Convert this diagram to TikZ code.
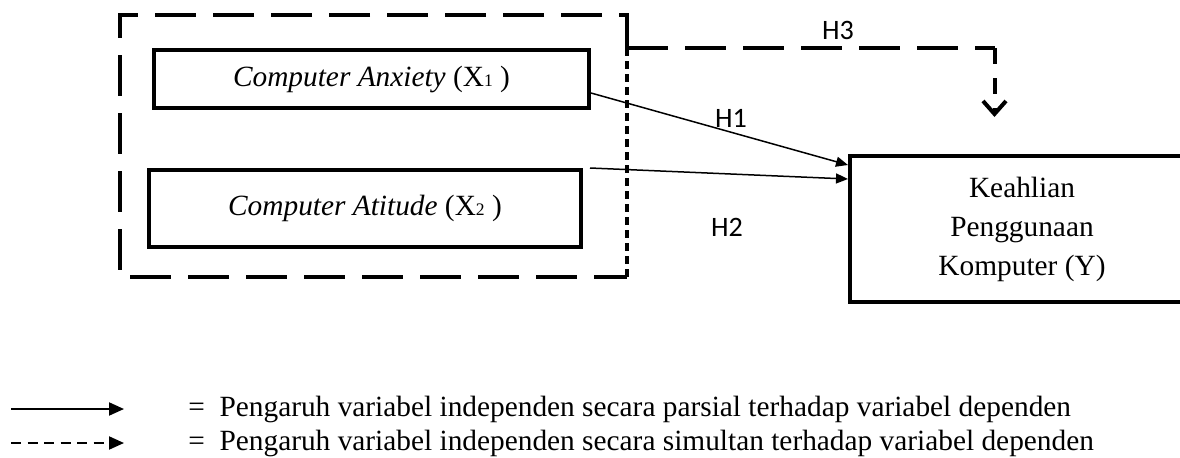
\documentclass[tikz,border=0pt]{standalone}
\usepackage{fontspec}
\setmainfont{Liberation Serif}
\newfontfamily\hfont{Carlito}
\newcommand{\txtsize}{\fontsize{16.7}{22.2}\selectfont}
\newcommand{\idx}[1]{{\fontsize{10}{10}\selectfont #1}}
\usetikzlibrary{arrows.meta}
\usetikzlibrary{positioning}
\tikzset{
	varbox/.style={draw, line width=0.08cm, align=center},
	grpdash/.style={line width=0.08cm, dash pattern=on 0.82cm off 0.34cm},
	grpdot/.style={line width=0.07cm, dash pattern=on 0.16cm off 0.1cm},
	partial/.style={line width=0.03cm, -{Triangle[length=0.24cm,width=0.2cm]}},
	hlabel/.style={font=\hfont\fontsize{16}{19}\selectfont},
	legtext/.style={anchor=west, inner sep=0pt}
}

\begin{document}
\begin{tikzpicture}[font=\txtsize]
	\useasboundingbox (0,0) rectangle (23.6,9.14);
	\node[varbox, minimum width=8.70cm, minimum height=1.16cm] (anx) at (7.43,7.56){\textit{Computer Anxiety} (X\idx{1} )};%X1
	\node[varbox, minimum width=8.64cm, minimum height=1.54cm] (att) at (7.30,4.97){\textit{Computer Atitude} (X\idx{2} )};%X2
	\node[varbox, minimum width=6.88cm, minimum height=2.92cm] (kpk) at (20.44,4.56){Keahlian\\Penggunaan\\Komputer (Y)};%Y
	% kotak simultan
	\coordinate (gtl) at (2.40,8.84);
	\coordinate (gbr) at (12.54,3.60);
	\coordinate (gj) at (12.54,8.18);
	\coordinate (h3c) at (19.89,8.18);
	\coordinate (h3tip) at (19.89,6.80);
	\draw[grpdash] (gj) |- (gtl) |- (gbr);
	\draw[grpdot] (gj) -- (gbr);
	\draw[grpdash] (gj) -- (h3c);
	\draw[line width=0.08cm, dash pattern=on 0.32cm off 0.28cm, -{Straight Barb[length=0.26cm,width=0.46cm]}] (h3c) -- (h3tip);
	% parsial
	\draw[partial] ([yshift=-0.28cm]anx.east) -- ([yshift=-0.22cm]kpk.north west);
	\draw[partial] ([xshift=0.14cm]att.north east) -- ([yshift=-0.5cm]kpk.north west);
	\node[hlabel] (h1) at (14.62,6.78){H1};
	\node[hlabel] (h2) at (14.54,4.60){H2};
	\node[hlabel] (h3) at (16.76,8.54){H3};
	% keterangan
	\coordinate (l1a) at (0.22,0.96);
	\coordinate (l1b) at (2.48,0.96);
	\coordinate (l2a) at (0.22,0.28);
	\coordinate (l2b) at (2.48,0.28);
	\draw[line width=0.04cm, -{Triangle[length=0.3cm,width=0.26cm]}] (l1a) -- (l1b);
	\draw[line width=0.04cm, dash pattern=on 0.2cm off 0.13cm, -{Triangle[length=0.3cm,width=0.26cm]}] (l2a) -- (l2b);
	\node[legtext] (leg1) at (3.76,0.96){=\enskip Pengaruh variabel independen secara parsial terhadap variabel dependen};
	\node[legtext] (leg2) at (3.76,0.28){=\enskip Pengaruh variabel independen secara simultan terhadap variabel dependen};
\end{tikzpicture}
\end{document}
